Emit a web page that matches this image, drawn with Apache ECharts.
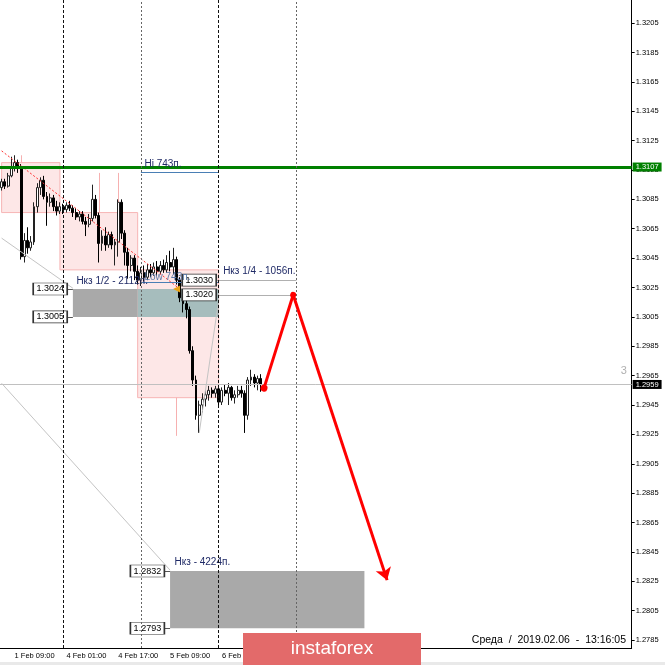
<!DOCTYPE html>
<html><head><meta charset="utf-8">
<script src="https://cdn.jsdelivr.net/npm/echarts@6/dist/echarts.min.js"></script>
<style>html,body{margin:0;padding:0;background:#fff}#c{width:665px;height:665px}</style>
</head><body><div id="c"></div>
<script>
const FONT = 'Liberation Sans';
// hourly H1 bars starting 1 Feb 2019 05:00 (weekend skipped), incl. empty future slots
const startTime = '2019-02-01T05:00:00Z';
const categoryCount = 195;
const lastBarIndex = 80;
const yTicks = [1.2785,1.2805,1.2825,1.2845,1.2865,1.2885,1.2905,1.2925,1.2945,1.2965,1.2985,1.3005,1.3025,1.3045,1.3065,1.3085,1.3105,1.3125,1.3145,1.3165,1.3185,1.3205];
const yRange = [1.27796, 1.32207];

const open  = [1.3093,1.3097,1.3094,1.3101,1.3106,1.3110,1.3107,1.3046,1.3057,1.3052,1.3056,1.3080,1.3093,1.3098,1.3087,1.3083,1.3086,1.3080,1.3077,
               1.3080,1.3078,1.3081,1.3079,1.3076,1.3073,1.3075,1.3070,1.3068,1.3072,1.3085,1.3074,1.3055,1.3060,1.3054,1.3061,1.3054,1.3056,1.3083,1.3062,1.3049,1.3040,1.3045,1.3036,
               1.3030,1.3035,1.3032,1.3037,1.3035,1.3039,1.3036,1.3040,1.3037,1.3042,1.3039,1.3044,1.3030,1.3018,1.3014,1.3010,1.2982,1.2962,1.2938,1.2945,1.2949,1.2952,1.2955,1.2953,
               1.2956,1.2947,1.2955,1.2953,1.2957,1.2950,1.2952,1.2955,1.2953,1.2938,1.2962,1.2964,1.2960,1.2963];
const high  = [1.3099,1.3099,1.3103,1.3114,1.3115,1.3112,1.3109,1.3062,1.3066,1.3060,1.3083,1.3096,1.3100,1.3101,1.3090,1.3089,1.3088,1.3084,1.3083,
               1.3082,1.3083,1.3084,1.3081,1.3079,1.3077,1.3077,1.3073,1.3075,1.3095,1.3088,1.3076,1.3064,1.3066,1.3063,1.3063,1.3058,1.3085,1.3085,1.3064,1.3052,1.3047,1.3047,1.3040,
               1.3039,1.3040,1.3041,1.3041,1.3042,1.3043,1.3043,1.3044,1.3047,1.3050,1.3052,1.3046,1.3032,1.3022,1.3017,1.3012,1.2985,1.2965,1.2948,1.2953,1.2955,1.2958,1.2957,1.2958,
               1.2958,1.2957,1.2959,1.2960,1.2958,1.2955,1.2958,1.2958,1.2955,1.2964,1.2969,1.2966,1.2965,1.2966];
const low   = [1.3091,1.3092,1.3093,1.3100,1.3104,1.3103,1.3044,1.3042,1.3048,1.3050,1.3054,1.3076,1.3088,1.3085,1.3067,1.3080,1.3077,1.3074,1.3075,
               1.3075,1.3076,1.3077,1.3073,1.3071,1.3070,1.3068,1.3060,1.3066,1.3070,1.3072,1.3042,1.3050,1.3050,1.3052,1.3051,1.3040,1.3046,1.3058,1.3040,1.3031,1.3036,1.3030,1.3027,
               1.3026,1.3029,1.3030,1.3032,1.3033,1.3033,1.3034,1.3035,1.3035,1.3036,1.3034,1.3027,1.3015,1.3008,1.3004,1.2980,1.2958,1.2935,1.2926,1.2940,1.2944,1.2948,1.2950,1.2950,
               1.2944,1.2945,1.2951,1.2945,1.2948,1.2946,1.2950,1.2950,1.2926,1.2935,1.2958,1.2957,1.2955,1.2954];
const close = [1.3097,1.3094,1.3101,1.3106,1.3110,1.3107,1.3046,1.3057,1.3052,1.3056,1.3080,1.3093,1.3098,1.3087,1.3083,1.3086,1.3080,1.3077,1.3080,
               1.3078,1.3081,1.3079,1.3076,1.3073,1.3075,1.3070,1.3068,1.3072,1.3085,1.3074,1.3055,1.3060,1.3054,1.3061,1.3054,1.3056,1.3083,1.3062,1.3049,1.3040,1.3045,1.3036,1.3030,
               1.3035,1.3032,1.3037,1.3035,1.3039,1.3036,1.3040,1.3037,1.3042,1.3039,1.3044,1.3030,1.3018,1.3014,1.3010,1.2982,1.2962,1.2938,1.2945,1.2949,1.2952,1.2955,1.2953,1.2956,
               1.2947,1.2955,1.2953,1.2957,1.2950,1.2952,1.2955,1.2953,1.2938,1.2962,1.2964,1.2960,1.2963,1.2959];

// levels / objects (bar index, price)
const greenLevel = 1.3107;
const bidPrice = 1.2959;
const daySeparators = [19, 43, 67, 91];
const pinkBoxes = [[0, 1.3110, 18, 1.3076], [18, 1.3076, 42, 1.3037], [42, 1.3037, 67, 1.2950]];
const pinkWhiskers = [[6, 1.3115, 1.3110], [30, 1.3103, 1.3076], [36, 1.3103, 1.3076], [54, 1.2950, 1.2924]];
const zone1 = [22, 1.3024, 67, 1.3005];
const zone1Split = 42;
const zone2 = [52, 1.2832, 112, 1.2793];
const hiLow = {from: 43, to: 67, hi: 1.31035, low: 1.30285};
const tpLevels = [1.3030, 1.3020];
const forecast = [[81, 1.29565], [90, 1.3020], [119, 1.28258]];

const months = ['Jan','Feb','Mar','Apr','May','Jun','Jul','Aug','Sep','Oct','Nov','Dec'];
const pad = n => (n < 10 ? '0' : '') + n;
const cats = [];
let t = new Date(startTime).getTime();
while (cats.length < categoryCount) {
  const d = new Date(t);
  const wd = d.getUTCDay();
  if (wd !== 0 && wd !== 6) cats.push(d.getUTCDate() + ' ' + months[d.getUTCMonth()] + ' ' + pad(d.getUTCHours()) + ':00');
  t += 3600000;
}
const candles = open.map((o, i) => [o, close[i], low[i], high[i]]);
const showLbl = (idx) => idx >= 4 && idx <= lastBarIndex && (idx - 4) % 16 === 0;

const seg = (a, b, style) => [{coord: a, lineStyle: style}, {coord: b}];
const gray = {color: '#c4c4c4', width: 1, type: 'solid'};
const conn = {color: '#555', width: 1, type: 'solid'};
const pinkLine = {color: '#f6b0b0', width: 1, type: 'solid'};

const priceBox = (txt, coord) => ({name: txt, coord, symbol: 'rect', symbolSize: [34, 12],
  itemStyle: {color: '#fff', borderColor: '#333', borderWidth: 1},
  label: {show: true, position: 'inside', formatter: '{b}', color: '#000', fontSize: 9, fontFamily: FONT}});
const textMark = (txt, coord, color, dist, size) => ({name: txt, coord, symbol: 'rect', symbolSize: 1,
  itemStyle: {color: 'rgba(0,0,0,0)'},
  label: {show: true, position: 'right', distance: dist, formatter: '{b}', color, fontSize: size || 10, fontFamily: FONT}});

const chart = echarts.init(document.getElementById('c'));
chart.setOption({
  animation: false,
  backgroundColor: '#fff',
  grid: {left: -1.6, right: 33.35, top: 0, bottom: 17},
  xAxis: {
    type: 'category', data: cats, boundaryGap: true,
    axisLine: {lineStyle: {color: '#000', width: 1}},
    axisTick: {interval: showLbl, alignWithLabel: true, length: 3, lineStyle: {color: '#000'}},
    axisLabel: {interval: showLbl, align: 'left', margin: 4, fontSize: 7.5, color: '#000', fontFamily: FONT},
    splitLine: {show: false}
  },
  yAxis: {
    type: 'value', position: 'right', min: yRange[0], max: yRange[1],
    axisLine: {show: true, lineStyle: {color: '#000', width: 1}},
    axisTick: {show: true, customValues: yTicks, length: 3, lineStyle: {color: '#000'}},
    axisLabel: {customValues: yTicks, formatter: v => v.toFixed(4), margin: 4, fontSize: 7.5, color: '#000', fontFamily: FONT},
    splitLine: {show: false}
  },
  graphic: [
    {type: 'rect', shape: {x: 0, y: 662, width: 665, height: 3}, style: {fill: '#e9e9e9'}, z: 90},
    {type: 'text', x: 626, y: 640, z: 100, style: {text: 'Среда  /  2019.02.06  -  13:16:05', fill: '#000', font: '10.5px "Liberation Sans"', align: 'right', verticalAlign: 'middle'}},
    {type: 'rect', shape: {x: 243, y: 633, width: 178, height: 40}, style: {fill: '#e36a6a'}, z: 100},
    {type: 'text', x: 332, y: 649, z: 101, style: {text: 'instaforex', fill: '#fff', font: '19px "Liberation Sans"', align: 'center', verticalAlign: 'middle'}}
  ],
  series: [
    { // background rectangles
      type: 'line', data: [], silent: true,
      markArea: {
        z: 1, silent: true, label: {show: false},
        data: [
          ...pinkBoxes.map(b => [{coord: [b[0], b[1]], itemStyle: {color: '#fde7e7', borderColor: '#f7b5b5', borderWidth: 1}}, {coord: [b[2], b[3]]}]),
          [{coord: [zone1[0], zone1[1]], itemStyle: {color: '#a9a9a9'}}, {coord: [zone1Split, zone1[3]]}],
          [{coord: [zone1Split, zone1[1]], itemStyle: {color: '#a6bdbd'}}, {coord: [zone1[2], zone1[3]]}],
          [{coord: [zone2[0], zone2[1]], itemStyle: {color: '#a9a9a9'}}, {coord: [zone2[2], zone2[3]]}]
        ]
      },
      markLine: {
        z: 1, silent: true, symbol: 'none', precision: 5, label: {show: false},
        data: pinkWhiskers.map(w => seg([w[0], w[1]], [w[0], w[2]], pinkLine))
      }
    },
    {
      type: 'candlestick', data: candles, barWidth: 2.4, z: 2,
      itemStyle: {color: '#ffffff', color0: '#000000', borderColor: '#222', borderColor0: '#000', borderWidth: 1}
    },
    { // lines
      type: 'line', data: [], silent: true,
      markLine: {
        z: 4, silent: true, symbol: 'none', precision: 5, label: {show: false},
        data: [
          {yAxis: bidPrice, lineStyle: {color: '#c0c0c0', width: 1, type: 'solid'},
            label: {show: true, position: 'end', distance: 1, formatter: bidPrice.toFixed(4), backgroundColor: '#000', color: '#fff', fontSize: 7.5, fontFamily: FONT, padding: [1, 3, 0, 3]}},
          seg([0, 1.3118], [55, 1.3024], {color: '#ff3030', width: 1, type: [2, 2]}),
          seg([0, 1.30586], [22, 1.30245], gray),
          seg([0, 1.29598], [52, 1.28326], gray),
          seg([61, 1.2926], [67, 1.3016], gray),
          seg([hiLow.from, hiLow.hi], [hiLow.to, hiLow.hi], {color: '#4a7fb5', width: 1, type: 'solid'}),
          seg([hiLow.from, hiLow.low], [hiLow.to, hiLow.low], {color: '#4a7fb5', width: 1, type: 'solid'}),
          seg([61, tpLevels[0]], [91, tpLevels[0]], {color: '#b0b0b0', width: 1, type: 'solid'}),
          seg([61, tpLevels[1]], [91, tpLevels[1]], {color: '#b0b0b0', width: 1, type: 'solid'}),
          seg([15, zone1[1]], [zone1[0], zone1[1]], conn),
          seg([15, zone1[3]], [zone1[0], zone1[3]], conn),
          seg([45, zone2[1]], [zone2[0], zone2[1]], conn),
          seg([45, zone2[3]], [zone2[0], zone2[3]], conn),
          {yAxis: greenLevel, lineStyle: {color: '#008000', width: 3, type: 'solid'},
            label: {show: true, position: 'end', distance: 1, formatter: greenLevel.toFixed(4), backgroundColor: '#008000', color: '#fff', fontSize: 7.5, fontFamily: FONT, padding: [1, 3, 0, 3]}}
        ]
      }
    },
    { // labels
      type: 'line', data: [], silent: true,
      markPoint: {
        z: 6, silent: true,
        data: [
          priceBox('1.3024', [15, 1.3024]),
          priceBox('1.3005', [15, 1.3005]),
          priceBox('1.3030', [61, 1.3030]),
          priceBox('1.3020', [61, 1.3020]),
          priceBox('1.2832', [45, 1.2832]),
          priceBox('1.2793', [45, 1.2793]),
          textMark('Hi 743п.', [43, 1.3109], '#1f2a66', 3),
          textMark('Low 743п.', [43, 1.3032], '#5a78a8', 3),
          textMark('Нкз 1/2 - 2112п.', [22, 1.30293], '#1f2a66', 3),
          textMark('Нкз 1/4 - 1056п.', [67, 1.30361], '#1f2a66', 4),
          textMark('Нкз - 4224п.', [52, 1.28381], '#1f2a66', 4),
          textMark('3', [191, 1.2968], '#b0b0b0', 0, 11),
          {coord: [54, 1.3024], symbol: 'triangle', symbolRotate: 90, symbolSize: 7, itemStyle: {color: '#e8a317'}, label: {show: false}}
        ]
      }
    },
    { // day separators
      type: 'line', data: [], silent: true,
      markLine: {
        z: 7, silent: true, symbol: 'none', label: {show: false},
        data: daySeparators.map((x, k) => ({xAxis: x, lineStyle: k % 2 === 0 ? {color: '#111', width: 1, type: [3, 2]} : {color: '#666', width: 1, type: [2, 2]}}))
      }
    },
    { // forecast arrow
      type: 'line', data: [], silent: true,
      markLine: {
        z: 8, silent: true, precision: 5, label: {show: false},
        lineStyle: {color: '#ff0000', width: 3, type: 'solid'},
        itemStyle: {color: '#ff0000'},
        data: [
          [{coord: forecast[0], symbol: 'circle', symbolSize: 7}, {coord: forecast[1], symbol: 'circle', symbolSize: 6}],
          [{coord: forecast[1], symbol: 'none'}, {coord: forecast[2], symbol: 'arrow', symbolSize: 12}]
        ]
      }
    }
  ]
});
</script></body></html>
